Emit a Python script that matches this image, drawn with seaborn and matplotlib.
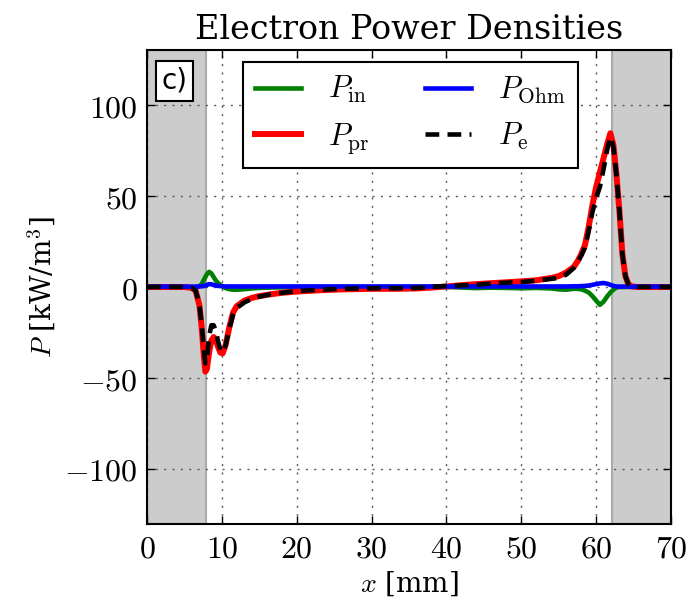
import numpy as np
import pandas as pd
import matplotlib
matplotlib.use("Agg")
import matplotlib.pyplot as plt
from matplotlib import ticker
import seaborn as sns

# Position along the discharge gap [mm]
x_mm = [0, 5, 6, 6.5, 7, 7.3, 7.6, 7.8, 8.0, 8.3, 8.6, 8.9, 9.2, 9.5, 9.8,
        10.1, 10.5, 11, 11.5, 12, 13, 14, 15, 16.5, 18, 20, 23, 26, 30, 33,
        36, 38, 40, 42, 44, 46, 48, 50, 52, 54, 55, 56, 57, 57.5, 58, 58.5,
        59, 59.5, 60, 60.5, 61, 61.5, 61.9, 62.3, 62.7, 63.1, 63.5, 63.9,
        64.3, 64.8, 65.5, 70]

# Power densities [kW/m^3]
p_in = [0, 0, 0, 0, 0.5, 1.5, 4, 5.5, 7, 8.3, 7.5, 5.5, 3.5, 2.2, 1.2,
        0.3, -0.6, -1.2, -1.5, -1.5, -1.2, -0.8, -0.5, -0.3, -0.2, 0, 0, 0, 0, 0,
        0, 0, 0, -0.3, -0.6, -0.4, -0.5, -0.7, -0.5, -0.8, -1.3, -1.5, -1.0, -1.0, -1.3, -2,
        -3, -5, -7.5, -9.8, -8, -5, -3, -1.5, -0.3, 0, 0, 0,
        0, 0, 0, 0]

p_pr = [0, 0, -0.5, -2, -10, -22, -38, -46.5, -45, -36, -29.5, -27.5, -29, -33, -36,
        -36.5, -32, -22, -14, -10.5, -7.5, -6, -5, -4, -3.2, -2.5, -1.8, -1.3, -1.0, -1.0,
        -0.8, -0.3, 0.3, 1.0, 1.6, 2.1, 2.6, 3.1, 3.7, 5, 6, 8, 11, 14, 18, 23,
        33, 45, 55, 63, 71, 79, 84.5, 78, 62, 42, 18, 6,
        1.5, 0.3, 0, 0]

p_ohm = [0.2, 0.2, 0.2, 0.2, 0.3, 0.4, 0.5, 0.8, 1.2, 1.6, 1.5, 1.1, 0.8, 0.6, 0.5,
         0.4, 0.3, 0.3, 0.3, 0.3, 0.3, 0.3, 0.3, 0.3, 0.3, 0.3, 0.3, 0.3, 0.3, 0.3,
         0.3, 0.3, 0.3, 0.3, 0.3, 0.3, 0.3, 0.3, 0.3, 0.3, 0.3, 0.3, 0.4, 0.4, 0.5, 0.6,
         0.8, 1.2, 1.6, 2.0, 2.2, 1.8, 1.2, 0.6, 0.3, 0.2, 0.2, 0.2,
         0.2, 0.2, 0.2, 0.2]

p_e = [0, 0, -0.5, -2, -9.5, -20.5, -34, -42, -40, -27, -21, -21, -24, -30, -34.5,
       -36, -32, -23, -15, -11.5, -8.5, -6.5, -5.3, -4, -3.2, -2.2, -1.5, -1.0, -0.7, -0.7,
       -0.5, 0, 0.6, 0.9, 1.2, 1.9, 2.4, 2.7, 3.5, 4.5, 5, 6.8, 10.4, 13.4, 17.2, 21.6,
       30.8, 41.2, 49, 55, 65, 76, 82.5, 77, 62, 42, 18, 6,
       1.5, 0.3, 0, 0]

x_ticks = [0, 10, 20, 30, 40, 50, 60, 70]
y_ticks = [-100, -50, 0, 50, 100]
cathode_edges = [(0, 7.85), (62.15, 70)]

plt.rcParams.update({
    "font.family": "serif",
    "font.serif": ["DejaVu Serif"],
    "mathtext.fontset": "cm",
    "axes.linewidth": 1.5,
    "xtick.direction": "in",
    "ytick.direction": "in",
    "xtick.top": True,
    "ytick.right": True,
    "xtick.major.size": 6,
    "ytick.major.size": 6,
    "xtick.major.width": 1.0,
    "ytick.major.width": 1.0,
    "xtick.major.pad": 7,
    "ytick.major.pad": 7,
})

df = pd.DataFrame({"x": x_mm, "in": p_in, "pr": p_pr, "ohm": p_ohm, "e": p_e})

fig = plt.figure(figsize=(6.92, 6.01), dpi=100)
ax = fig.add_axes([0.2124, 0.1288, 0.7573, 0.7873])

for lo, hi in cathode_edges:
    ax.axvspan(lo, hi, facecolor="#cccccc", edgecolor="#aaaaaa", lw=1.5, zorder=0)

sns.lineplot(data=df, x="x", y="in", ax=ax, color="green", lw=3.3, label=r"$P_{\rm in}$")
sns.lineplot(data=df, x="x", y="pr", ax=ax, color="red", lw=4.3, label=r"$P_{\rm pr}$")
sns.lineplot(data=df, x="x", y="ohm", ax=ax, color="blue", lw=3.3, label=r"$P_{\rm Ohm}$")
sns.lineplot(data=df, x="x", y="e", ax=ax, color="black", lw=3.3,
             ls=(0, (3, 1.8)), label=r"$P_{\rm e}$")

ax.set_xlim(0, 70)
ax.set_ylim(-130, 130)
ax.set_xticks(x_ticks)
ax.set_yticks(y_ticks)
fmt = ticker.FuncFormatter(lambda v, p: r"$%d$" % v)
ax.xaxis.set_major_formatter(fmt)
ax.yaxis.set_major_formatter(fmt)
ax.tick_params(labelsize=23)

ax.set_axisbelow(True)
ax.grid(True, color="0.35", ls=(0, (1.5, 4.5)), lw=1.0)

ax.set_xlabel(r"$x$ [mm]", fontsize=20, labelpad=4)
ax.set_ylabel(r"$P$ [kW/m$^3$]", fontsize=20, labelpad=4)
ax.set_title("Electron Power Densities", fontsize=24, pad=8)

leg = ax.legend(ncol=2, loc="upper left", bbox_to_anchor=(0.183, 0.9755),
                borderaxespad=0, fontsize=22, handlelength=1.5,
                handletextpad=0.9, columnspacing=1.8, fancybox=False,
                framealpha=1, edgecolor="black", borderpad=0.4,
                labelspacing=0.5)
leg.get_frame().set_linewidth(1.5)

ax.text(0.028, 0.965, "c)", transform=ax.transAxes, fontsize=20,
        family="DejaVu Sans", va="top", ha="left",
        bbox=dict(boxstyle="square,pad=0.2", fc="white", ec="black", lw=1.5))

fig.savefig("out.png", dpi=100)
